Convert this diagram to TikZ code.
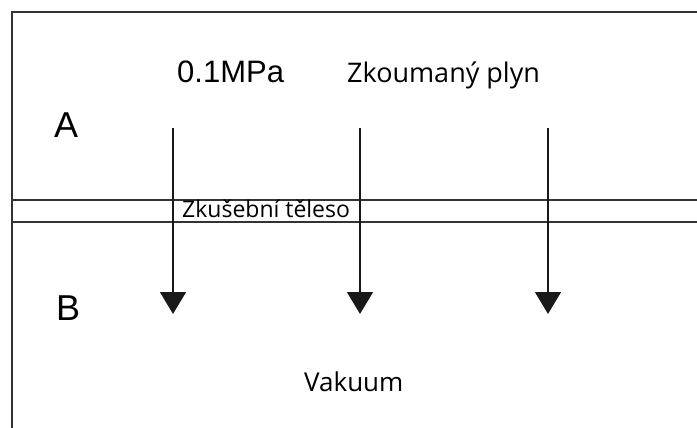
\documentclass[tikz,border=0pt]{standalone}
\usepackage{fontspec}
\setmainfont{Liberation Sans}
\newfontfamily\uifont{Open Sans}
\usetikzlibrary{arrows.meta,positioning}

\begin{document}
\begin{tikzpicture}[
  x=1pt, y=-1pt,
  frame/.style={line width=2.2pt, black!80},
  layer/.style={line width=1.4pt, black!80},
  flux/.style={-{Triangle[width=26pt,length=22pt]}, line width=1.3pt, black!90},
  side/.style={inner sep=0pt, anchor=base west, font=\fontsize{36}{36}\selectfont},
  lbl/.style={inner sep=0pt, anchor=base west},
]
\useasboundingbox (0,0) rectangle (697,428);
% chamber walls
\draw[frame] (12,428) -- (12,12) -- (697,12);
% test specimen
\draw[layer] (12,200) -- (697,200);
\draw[layer] (12,222) -- (697,222);
\node[lbl, font=\uifont\fontsize{23}{23}\selectfont] (sample) at (182,217) {Zkušební těleso};
% upstream side
\node[side] (sideA) at (54,138) {A};
\node[lbl, font=\fontsize{31}{31}\selectfont] (press) at (177,83) {0.1MPa};
\node[lbl, font=\uifont\fontsize{27}{27}\selectfont] (gas) at (347,83) {Zkoumaný plyn};
% downstream side
\node[side] (sideB) at (56,320) {B};
\node[lbl, font=\uifont\fontsize{26}{26}\selectfont] (vac) at (304,391) {Vakuum};
% permeation
\coordinate (in1) at (173,128);  \coordinate (out1) at (173,314);
\coordinate (in2) at (360,128);  \coordinate (out2) at (360,314);
\coordinate (in3) at (548,128);  \coordinate (out3) at (548,314);
\draw[flux] (in1) -- (out1);
\draw[flux] (in2) -- (out2);
\draw[flux, line width=1.6pt] (in3) -- (out3);
\end{tikzpicture}
\end{document}
